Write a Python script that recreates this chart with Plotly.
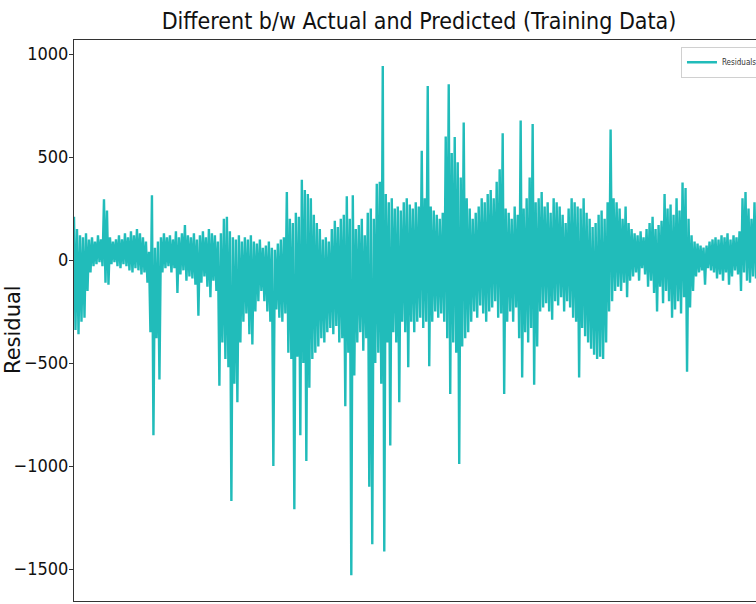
import plotly.graph_objects as go

# Residual envelope: for each narrow slice of the series,
# the highest value (upper_peaks) and the lowest value (lower_troughs).
upper_peaks = [
    210, 150, 120, 110, 130,
    100, 110, 90, 120, 100,
    295, 240,
    110, 90, 100, 120, 100, 130, 110, 140, 120, 150, 130, 110, 90,
    40, 315, 60, 90,
    110, 130, 110, 120, 100, 140, 110, 130, 170, 120,
    110, 130, 100, 120, 140, 110, 150, 130,
    120, 90, 130, 200, 210, 140, 110, 100, 120,
    90, 110, 100, 120, 90, 80, 100,
    60, 70, 90, 60, 50, 80, 100, 110,
    330, 200, 180, 230, 210, 390, 340,
    320, 300, 220, 180, 150, 100, 110, 90, 150, 190, 160, 200, 220,
    310, 200, 315,
    150, 170, 200, 120, 230, 250, 200,
    370, 380, 942,
    320, 280, 300, 250, 260, 240, 280, 300, 270, 250, 280, 260,
    530, 300, 845, 260, 240, 220, 200, 230, 600, 853, 520, 597, 474, 400, 668, 300,
    250, 200, 230, 260, 300, 280, 320, 340, 300, 380, 440,
    615, 250, 230, 200, 260, 220, 677, 250, 300, 400, 660,
    280, 300, 330, 260, 280, 230, 300, 280, 260, 220, 180, 250, 300,
    280, 260, 250, 300, 230, 200, 160, 180, 220,
    240, 200, 280, 633, 300, 280, 250, 200, 260, 180,
    150, 130, 120, 140, 110, 150, 180, 210, 150, 170,
    190, 320, 250, 270, 220, 300, 240, 376, 350, 200,
    120, 90, 80, 70, 60, 70, 90, 100, 110, 100,
    120, 110, 130, 100, 120, 110, 140, 300, 330, 250, 200, 280,
]
lower_troughs = [
    -340, -360, -300, -280, -150,
    -60, -30, -20, -10, -30,
    -110, -120,
    -20, -10, -30, -40, -20, -30, -50, -60, -40, -50, -70, -60, -110,
    -350, -850, -380, -580,
    -60, -40, -30, -60, -40, -160, -70, -50, -100, -80,
    -90, -120, -270, -110, -80, -130, -180, -100,
    -150, -610, -400, -480, -520, -1170, -600, -690, -400,
    -300, -260, -360, -410, -250, -200, -150,
    -200, -250, -300, -1000, -240, -280, -300, -260,
    -450, -480, -1210, -470, -850, -500, -975,
    -620, -480, -450, -420, -380, -400, -350, -330, -360, -320, -400, -380, -710,
    -450, -1530, -560,
    -400, -350, -440, -380, -1100, -1380, -500,
    -450, -600, -1415,
    -400, -900, -350, -400, -690, -300, -350, -520, -300, -350, -300, -280,
    -330, -300, -515, -300, -250, -280, -260, -300, -380, -650, -400, -450, -990, -420, -380, -350,
    -300, -250, -280, -220, -260, -300, -250, -230, -200, -280, -260,
    -650, -300, -250, -300, -230, -380, -570, -350, -400, -330, -605,
    -420, -250, -230, -210, -250, -290, -200, -220, -180, -250, -200, -230, -280,
    -300, -570, -330, -370, -400, -430, -460, -480, -470,
    -480, -400, -250, -200, -150, -130, -150, -110, -180, -100,
    -80, -60, -100, -40, -70, -130, -100, -160, -250, -130,
    -210, -150, -200, -280, -240, -200, -260, -180, -542, -230,
    -150, -80, -60, -50, -120, -40, -50, -60, -90, -70,
    -100, -60, -120, -80, -50, -70, -150, -60, -100, -110, -80, -90,
]

y_tick_values = [1000, 500, 0, -500, -1000, -1500]
title_text = "Different b/w Actual and Predicted (Training Data)"
y_label = "Residual"
series_name = "Residuals"

residuals = [v for pair in zip(upper_peaks, lower_troughs) for v in pair]
index = list(range(len(residuals)))

fig = go.Figure()
fig.add_trace(go.Scatter(
    x=index, y=residuals, mode="lines", name=series_name,
    line=dict(color="#21BCBA", width=2.4, simplify=False),
    showlegend=True,
))

fig.update_layout(
    width=756, height=604,
    margin=dict(l=74, r=0, t=40, b=3, autoexpand=False),
    paper_bgcolor="white", plot_bgcolor="white",
    title=dict(text=title_text, x=419 / 756, xanchor="center", y=0.965, yanchor="middle",
               font=dict(family="DejaVu Sans Condensed", size=23, color="#111111")),
    showlegend=True,
    legend=dict(x=0.89, y=0.988, xanchor="left", yanchor="top",
                bordercolor="#d0d0d0", borderwidth=1, bgcolor="white",
                font=dict(family="DejaVu Sans Condensed", size=8, color="#333333"),
                itemwidth=30, tracegroupgap=0),
    annotations=[dict(text=y_label, textangle=-90, xref="paper", yref="paper",
                      x=-74 / 682 + 13 / 682, y=(601 - 330) / 561,
                      xanchor="center", yanchor="middle", showarrow=False,
                      font=dict(family="DejaVu Sans", size=21, color="#111111"))],
)
fig.update_xaxes(range=[0, len(residuals) - 1], showgrid=False, zeroline=False,
                 showline=True, linecolor="#333333", linewidth=1, mirror=True,
                 showticklabels=False, ticks="")
fig.update_yaxes(range=[-1655, 1068], tickvals=y_tick_values, showgrid=False, zeroline=False,
                 showline=True, linecolor="#333333", linewidth=1,
                 ticks="outside", ticklen=4, tickcolor="#333333", ticklabelstandoff=-3,
                 tickfont=dict(family="DejaVu Sans Condensed", size=18, color="#111111"))

fig.write_html("out.html")
